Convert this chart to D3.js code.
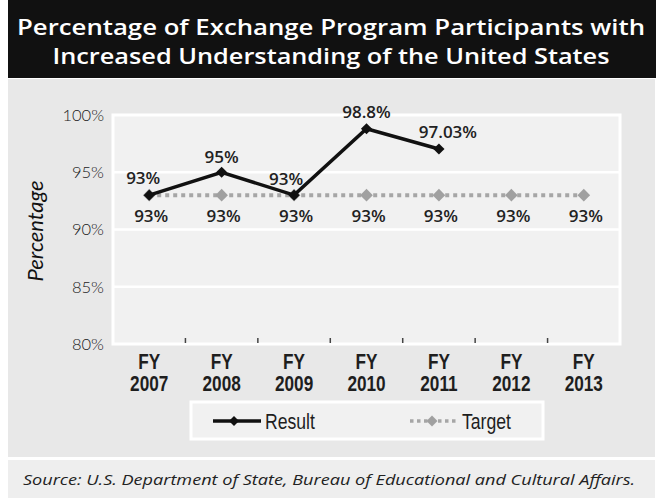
<!DOCTYPE html>
<html>
<head>
<meta charset="utf-8">
<script src="https://cdn.jsdelivr.net/npm/d3@7/dist/d3.min.js"></script>
<style>
  html, body { margin: 0; padding: 0; background: #ffffff; }
  svg { display: block; }
</style>
</head>
<body>
<svg id="chart" width="662" height="498"></svg>
<script>
// ---- Data ----
const titleLines = ["Percentage of Exchange Program Participants with", "Increased Understanding of the United States"];
const categories = ["FY 2007", "FY 2008", "FY 2009", "FY 2010", "FY 2011", "FY 2012", "FY 2013"];
const resultValues = [93, 95, 93, 98.8, 97.03];
const resultLabels = ["93%", "95%", "93%", "98.8%", "97.03%"];
const targetValues = [93, 93, 93, 93, 93, 93, 93];
const targetLabels = ["93%", "93%", "93%", "93%", "93%", "93%", "93%"];
const yTicks = [80, 85, 90, 95, 100];
const yAxisTitle = "Percentage";
const legendNames = ["Result", "Target"];
const sourceText = "Source: U.S. Department of State, Bureau of Educational and Cultural Affairs.";

// ---- Layout ----
const svg = d3.select("#chart");
const plot = { left: 113, right: 620, top: 115, bottom: 344 };
const narrow = 0.8; // horizontal squeeze to imitate a condensed face

// backgrounds
svg.append("rect").attr("x", 8).attr("y", 0).attr("width", 648).attr("height", 78).attr("fill", "#111111");
svg.append("rect").attr("x", 8).attr("y", 79).attr("width", 647).attr("height", 378).attr("fill", "#e8e8e8");
svg.append("rect").attr("x", 8).attr("y", 460).attr("width", 647).attr("height", 38).attr("fill", "#eeeeee");

// title
const titleY = [35, 64];
const titleLen = [628, 557];
titleLines.forEach((t, i) => {
  svg.append("text")
    .attr("x", 331).attr("y", titleY[i])
    .attr("text-anchor", "middle")
    .attr("font-family", "'Open Sans', sans-serif")
    .attr("font-weight", 600)
    .attr("font-size", 21.5)
    .attr("fill", "#ffffff")
    .attr("textLength", titleLen[i])
    .attr("lengthAdjust", "spacingAndGlyphs")
    .text(t);
});

// scales
const x = d3.scaleBand().domain(categories).range([plot.left, plot.right]).padding(0);
const y = d3.scaleLinear().domain([80, 100]).range([plot.bottom, plot.top]);
const cx = c => x(c) + x.bandwidth() / 2;

// plot area
svg.append("rect")
  .attr("x", plot.left).attr("y", plot.top)
  .attr("width", plot.right - plot.left).attr("height", plot.bottom - plot.top)
  .attr("fill", "#f1f1f1").attr("stroke", "#ffffff").attr("stroke-width", 3);

// gridlines
svg.append("g").selectAll("line")
  .data(yTicks.filter(v => v !== 80 && v !== 100))
  .join("line")
  .attr("x1", plot.left).attr("x2", plot.right)
  .attr("y1", d => y(d)).attr("y2", d => y(d))
  .attr("stroke", "#ffffff").attr("stroke-width", 2.5);

// y axis labels
const yAxis = d3.axisLeft(y).tickValues(yTicks).tickSize(0).tickPadding(0).tickFormat(d => d + "%");
const gy = svg.append("g").attr("transform", `translate(104,0)`).call(yAxis);
gy.select(".domain").remove();
gy.selectAll("text")
  .attr("font-family", "Lato, sans-serif")
  .attr("font-weight", 300)
  .attr("font-size", 16.5)
  .attr("fill", "#1a1a1a")
  .attr("dy", "0.33em");

// y axis title
svg.append("text")
  .attr("transform", "translate(43,231) rotate(-90)")
  .attr("text-anchor", "middle")
  .attr("font-family", "Lato, sans-serif")
  .attr("font-style", "italic")
  .attr("font-weight", 400)
  .attr("font-size", 22)
  .attr("fill", "#111111")
  .text(yAxisTitle);

// x ticks at band boundaries
svg.append("g").selectAll("line")
  .data(categories.slice(1))
  .join("line")
  .attr("x1", d => x(d)).attr("x2", d => x(d))
  .attr("y1", plot.bottom - 6).attr("y2", plot.bottom - 1)
  .attr("stroke", "#444444").attr("stroke-width", 1.5);

// x labels (two lines, condensed)
const xl = svg.append("g").selectAll("g")
  .data(categories)
  .join("g")
  .attr("transform", d => `translate(${cx(d)},0) scale(${narrow},1)`);
xl.each(function(d) {
  const parts = d.split(" ");
  const g = d3.select(this);
  parts.forEach((p, j) => {
    g.append("text")
      .attr("x", 0).attr("y", j === 0 ? 369 : 391)
      .attr("text-anchor", "middle")
      .attr("font-family", "'Liberation Sans', Arial, sans-serif")
      .attr("font-weight", "bold")
      .attr("font-size", 21.5)
      .attr("fill", "#1e1e1e")
      .text(p);
  });
});

// series data
const targetData = targetValues.map((v, i) => ({ c: categories[i], v }));
const resultData = resultValues.map((v, i) => ({ c: categories[i], v }));
const line = d3.line().x(d => cx(d.c)).y(d => y(d.v));
const sq = (size) => d3.symbol(d3.symbolSquare, size)();

// target line
svg.append("path")
  .attr("d", line(targetData))
  .attr("fill", "none")
  .attr("stroke", "#a6a6a6").attr("stroke-width", 4)
  .attr("stroke-dasharray", "4,4");

svg.append("g").selectAll("path")
  .data(targetData)
  .join("path")
  .attr("d", sq(80))
  .attr("transform", d => `translate(${cx(d.c)},${y(d.v)}) rotate(45)`)
  .attr("fill", "#a0a0a0");

// result line
svg.append("path")
  .attr("d", line(resultData))
  .attr("fill", "none")
  .attr("stroke", "#111111").attr("stroke-width", 3.5)
  .attr("stroke-linejoin", "miter");

svg.append("g").selectAll("path")
  .data(resultData)
  .join("path")
  .attr("d", sq(62))
  .attr("transform", d => `translate(${cx(d.c)},${y(d.v)}) rotate(45)`)
  .attr("fill", "#111111");

// labels
const labelFont = sel => sel
  .attr("font-family", "'Open Sans', sans-serif")
  .attr("font-weight", 600)
  .attr("font-size", 17)
  .attr("fill", "#222222")
  .attr("text-anchor", "middle");

const resultOffsets = [[-6, -11], [0, -9], [-8, -10], [0, -11], [9, -11]];
svg.append("g").selectAll("text")
  .data(resultData)
  .join("text")
  .call(labelFont)
  .attr("x", (d, i) => cx(d.c) + resultOffsets[i][0])
  .attr("y", (d, i) => y(d.v) + resultOffsets[i][1])
  .text((d, i) => resultLabels[i]);

svg.append("g").selectAll("text")
  .data(targetData)
  .join("text")
  .call(labelFont)
  .attr("x", d => cx(d.c) + 2)
  .attr("y", d => y(d.v) + 27)
  .text((d, i) => targetLabels[i]);

// legend
svg.append("rect")
  .attr("x", 191).attr("y", 402).attr("width", 352).attr("height", 37)
  .attr("fill", "#f1f1f1").attr("stroke", "#ffffff").attr("stroke-width", 3);

const lg = svg.append("g");
lg.append("line").attr("x1", 213).attr("x2", 261).attr("y1", 421).attr("y2", 421)
  .attr("stroke", "#111111").attr("stroke-width", 3.5);
lg.append("path").attr("d", sq(50)).attr("transform", "translate(234,421) rotate(45)").attr("fill", "#111111");
lg.append("line").attr("x1", 410).attr("x2", 458).attr("y1", 421).attr("y2", 421)
  .attr("stroke", "#a6a6a6").attr("stroke-width", 3.5).attr("stroke-dasharray", "3.5,3.5");
lg.append("path").attr("d", sq(60)).attr("transform", "translate(432,421) rotate(45)").attr("fill", "#a0a0a0");
[[265, legendNames[0]], [462, legendNames[1]]].forEach(([lx, t]) => {
  lg.append("text")
    .attr("transform", `translate(${lx},429) scale(${narrow},1)`)
    .attr("x", 0).attr("y", 0)
    .attr("font-family", "'Liberation Sans', Arial, sans-serif")
    .attr("font-size", 22)
    .attr("fill", "#1e1e1e")
    .text(t);
});

// source
svg.append("text")
  .attr("x", 23).attr("y", 485)
  .attr("font-family", "'Open Sans', sans-serif")
  .attr("font-style", "italic")
  .attr("font-size", 15)
  .attr("fill", "#222222")
  .attr("textLength", 612)
  .attr("lengthAdjust", "spacingAndGlyphs")
  .text(sourceText);
</script>
</body>
</html>
